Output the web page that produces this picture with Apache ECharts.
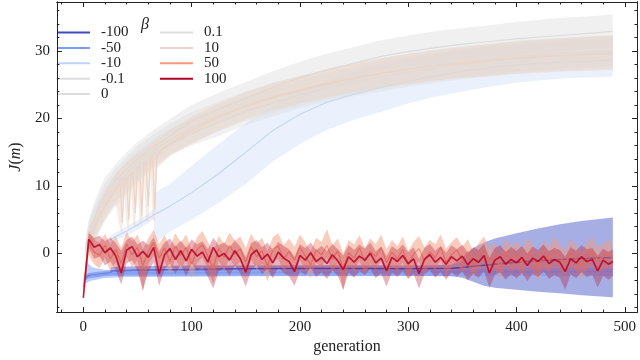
<!DOCTYPE html>
<html>
<head>
<meta charset="utf-8">
<script src="https://cdn.jsdelivr.net/npm/echarts@6/dist/echarts.min.js"></script>
<style>
  html, body { margin: 0; background: #fff; }
  #chart { width: 640px; height: 360px; }
</style>
</head>
<body>
<div id="chart"></div>
<script>
  // beta values, legend order
  const betas = ['-100', '-50', '-10', '-0.1', '0', '0.1', '10', '50', '100'];

  // axis ticks
  const xMajorTicks = [0, 100, 200, 300, 400, 500];
  const xMinorTicks = [-20, 20, 40, 60, 80, 120, 140, 160, 180, 220, 240, 260, 280, 320, 340, 360, 380, 420, 440, 460, 480];
  const yMajorTicks = [0, 10, 20, 30];
  const yMinorTicks = [-8, -6, -4, -2, 2, 4, 6, 8, 12, 14, 16, 18, 22, 24, 26, 28, 32, 34, 36];

  // generations for the noisy runs (beta = 50, 100)
  const gensNoisy = [];
  for (let g = 0; g <= 485; g += 5) gensNoisy.push(g);
  gensNoisy.push(489);

  const mean100 = [
    -6.6, 2.1, 0.9, 1.3, 0.1, 0.8, -0.4, -2.9, 0.5, 1.0,
    -0.5, 0.3, -0.6, 0.9, -3.0, -0.2, 0.7, -0.9, 0.4, -1.1,
    0.6, -0.4, 0.2, -1.3, 0.9, -0.5, 0.0, -1.0, 0.4, -0.8,
    -2.8, -0.2, 0.5, -0.9, -0.1, -1.4, 0.2, -0.7, -1.2, -2.7,
    -0.3, -1.0, 0.1, -1.2, -0.6, -1.5, -0.2, -1.1, -2.4, -0.5,
    -1.3, -0.4, -1.0, 0.0, -1.4, -0.7, -2.6, -0.6, -1.2, -0.3,
    -1.5, -0.8, -3.0, -0.9, -0.2, -1.3, -0.6, -1.6, -0.5, -1.1,
    -0.4, -1.7, -0.8, -1.3, -0.3, -2.9, -1.0, -0.5, -1.6, -0.9,
    -1.4, -0.6, -1.8, -0.7, -1.2, -0.4, -1.5, -0.9, -1.3, -2.7,
    -0.8, -1.4, -0.5, -1.2, -0.9, -2.6, -1.0, -1.6, -1.2
  ];
  const hi100 = [
    -5.8, 3.0, 2.3, 2.6, 1.8, 2.4, 1.5, 0.4, 2.0, 2.5,
    1.3, 1.9, 1.2, 2.4, 0.3, 1.6, 2.2, 1.0, 1.9, 0.8,
    2.1, 1.3, 1.8, 0.6, 2.3, 1.2, 1.6, 0.9, 1.9, 1.0,
    -0.6, 1.5, 2.0, 0.9, 1.6, 0.5, 1.7, 1.1, 0.6, -0.5,
    1.4, 0.8, 1.6, 0.5, 1.1, 0.3, 1.4, 0.6, -0.3, 1.2,
    0.5, 1.3, 0.7, 1.6, 0.3, 1.0, -0.4, 1.1, 0.5, 1.3,
    0.2, 0.9, -0.8, 0.8, 1.4, 0.4, 1.1, 0.1, 1.2, 0.6,
    1.3, 0.1, 0.9, 0.5, 1.4, -0.7, 0.8, 1.2, 0.2, 0.9,
    0.4, 1.1, 0.0, 1.0, 0.5, 1.3, 0.3, 0.8, 0.5, -0.5,
    0.9, 0.4, 1.2, 0.6, 0.8, -0.4, 0.7, 0.2, 0.6
  ];
  const lo100 = [
    -6.6, 0.8, -0.8, -0.5, -1.8, -1.2, -2.5, -4.6, -1.5, -1.0,
    -2.6, -5.5, -2.7, -1.3, -4.8, -2.4, -1.5, -3.0, -1.7, -3.4,
    -1.5, -2.6, -2.0, -3.5, -5.2, -2.7, -2.1, -3.3, -1.8, -3.0,
    -4.9, -2.5, -1.7, -3.1, -2.3, -3.7, -2.0, -2.9, -3.4, -4.8,
    -2.6, -3.2, -2.1, -3.5, -2.8, -3.8, -2.5, -3.3, -5.4, -2.8,
    -3.6, -2.6, -3.2, -2.3, -3.7, -2.9, -4.9, -2.8, -3.5, -2.6,
    -3.8, -3.0, -5.2, -3.1, -2.5, -3.6, -2.8, -3.9, -2.8, -3.4,
    -2.7, -4.0, -3.0, -3.6, -2.6, -5.1, -3.2, -2.8, -3.9, -3.1,
    -3.7, -2.9, -4.1, -3.0, -3.5, -2.7, -3.8, -3.2, -3.6, -5.4,
    -3.1, -3.7, -2.8, -3.5, -3.2, -5.0, -3.3, -3.9, -3.4
  ];

  const mean50 = [
    -5.0, 1.5, 0.2, -0.3, 1.2, -0.8, 0.6, -1.5, 1.4, -0.2,
    0.9, -1.8, 0.3, 1.6, -0.7, 0.8, -1.2, 1.1, -0.3, 0.9,
    -1.6, 0.5, 1.3, -0.4, -2.2, 0.8, -0.6, 1.2, -0.1, 0.7,
    -1.3, 1.0, -0.5, 0.4, -1.9, 0.6, 1.1, -0.8, 0.3, -1.0,
    0.9, -0.4, -1.7, 0.5, -0.2, 1.2, -0.9, 0.4, -2.3, 0.1,
    -0.7, 0.8, -1.2, 0.3, -0.5, 0.9, -1.4, 0.2, -0.8, 0.6,
    -1.8, -0.1, 0.7, -1.1, 0.2, -0.6, 0.9, -1.3, -0.2, 0.5,
    -1.0, 0.3, -1.6, -0.4, 0.6, -1.2, -0.3, -2.0, 0.4, -0.9,
    -0.1, -1.4, 0.3, -0.7, -2.1, 0.0, -1.0, 0.5, -0.6, -1.5,
    0.2, -0.8, -1.9, -0.3, 0.4, -1.1, -0.5, 0.1, -0.7
  ];
  const hi50 = [
    -4.5, 3.3, 2.0, 1.6, 2.9, 1.3, 2.5, 0.8, 3.2, 1.8,
    2.8, 0.6, 2.2, 3.5, 1.4, 2.7, 0.9, 3.0, 1.6, 2.8,
    0.5, 2.4, 3.3, 1.7, 0.2, 2.6, 1.4, 3.1, 1.9, 2.5,
    0.8, 2.9, 1.5, 2.3, 0.3, 2.4, 3.0, 1.2, 2.2, 1.0,
    2.8, 1.6, 0.4, 2.3, 1.7, 3.6, 1.2, 2.2, 0.0, 2.0,
    1.3, 2.7, 0.8, 2.2, 1.4, 2.8, 0.6, 2.0, 1.1, 2.5,
    0.3, 1.7, 2.6, 0.9, 2.0, 1.3, 2.8, 0.7, 1.7, 2.4,
    1.0, 2.1, 0.4, 1.5, 2.5, 0.8, 1.6, 0.0, 2.3, 1.0,
    1.8, 0.6, 2.2, 1.3, -0.1, 1.9, 0.9, 2.4, 1.3, 0.5,
    2.1, 1.1, 0.1, 1.6, 2.3, 0.8, 1.4, 2.0, 1.2
  ];
  const lo50 = [
    -5.8, -0.3, -1.6, -2.2, -0.6, -2.7, -1.3, -3.4, -0.5, -2.1,
    -1.0, -5.6, -1.6, -0.3, -2.6, -1.1, -3.1, -0.8, -2.2, -1.0,
    -3.6, -1.4, -0.6, -2.3, -4.5, -1.1, -2.5, -0.7, -2.0, -1.2,
    -3.2, -0.9, -2.4, -1.5, -4.2, -1.3, -0.8, -2.7, -1.6, -2.9,
    -1.0, -2.3, -3.6, -1.4, -2.1, -0.7, -2.8, -1.5, -5.5, -1.8,
    -2.6, -1.1, -3.1, -1.6, -2.4, -1.0, -3.3, -1.7, -2.7, -1.3,
    -3.7, -2.0, -1.2, -3.0, -1.7, -2.5, -1.0, -3.2, -2.1, -1.4,
    -2.9, -1.6, -3.5, -2.3, -1.3, -3.1, -2.2, -3.9, -1.5, -2.8,
    -2.0, -3.3, -1.6, -2.6, -4.0, -1.9, -2.9, -1.4, -2.5, -3.4,
    -1.7, -2.7, -3.8, -2.2, -1.5, -3.0, -2.4, -1.8, -2.6
  ];

  // generations for the smooth runs (beta = -0.1, 0, 0.1)
  const gensSmooth = [2, 5, 10, 15, 20, 30, 40, 50, 65, 80, 100, 125, 150, 175, 200, 225, 250, 275, 300, 325, 350, 375, 400, 425, 450, 475, 489];

  const meanP01 = [0.5, 2.8, 5.0, 7.0, 8.6, 10.8, 12.5, 14.0, 15.8, 17.4, 19.6, 21.4, 23.0, 24.6, 26.0, 27.2, 28.2, 29.2, 29.9, 30.5, 31.0, 31.4, 31.8, 32.1, 32.4, 32.7, 32.9];
  const hiP01 = [1.8, 5.0, 7.5, 9.6, 11.2, 13.3, 15.0, 16.5, 18.3, 19.9, 22.0, 23.8, 25.4, 27.0, 28.4, 29.6, 30.6, 31.6, 32.3, 32.9, 33.4, 33.8, 34.3, 34.7, 35.0, 35.2, 35.4];
  const loP01 = [-0.5, 1.0, 2.8, 4.6, 6.2, 8.5, 10.2, 11.8, 13.7, 15.4, 17.6, 19.3, 20.9, 22.4, 23.8, 25.0, 26.0, 27.0, 27.6, 28.2, 28.7, 29.1, 29.5, 29.8, 30.1, 30.4, 30.6];

  const mean0 = [0.3, 1.8, 3.8, 5.6, 7.2, 9.4, 11.2, 12.8, 14.8, 16.2, 17.8, 19.4, 21.0, 22.3, 23.5, 24.5, 25.4, 26.2, 26.9, 27.5, 28.0, 28.5, 28.9, 29.2, 29.4, 29.6, 29.7];
  const hi0 = [1.6, 4.0, 6.2, 8.0, 9.6, 11.8, 13.6, 15.2, 17.0, 18.4, 20.0, 21.6, 23.1, 24.4, 25.6, 26.7, 27.6, 28.5, 29.2, 29.8, 30.4, 30.9, 31.3, 31.6, 31.9, 32.1, 32.2];
  const lo0 = [-0.6, -0.2, 1.4, 3.2, 4.8, 7.0, 8.8, 10.5, 12.6, 14.6, 16.0, 17.4, 19.0, 20.3, 21.5, 22.5, 23.3, 24.0, 24.7, 25.3, 25.8, 26.2, 26.6, 26.9, 27.1, 27.3, 27.4];

  const meanM01 = [0.4, 2.2, 4.4, 6.3, 7.9, 10.1, 11.8, 13.4, 15.3, 16.8, 18.6, 20.3, 21.8, 23.0, 24.1, 25.0, 25.8, 26.6, 27.3, 27.9, 28.4, 28.8, 29.2, 29.5, 29.7, 29.9, 30.0];
  const hiM01 = [1.8, 4.6, 6.9, 8.8, 10.4, 12.6, 14.3, 15.9, 17.7, 19.2, 20.9, 22.5, 24.0, 25.2, 26.3, 27.3, 28.1, 28.9, 29.6, 30.2, 30.7, 31.1, 31.5, 31.8, 32.0, 32.2, 32.3];
  const loM01 = [-0.5, 0.2, 2.0, 3.8, 5.4, 7.6, 9.3, 10.9, 12.9, 14.6, 16.4, 18.1, 19.6, 20.8, 21.9, 22.8, 23.6, 24.4, 25.0, 25.6, 26.1, 26.5, 26.9, 27.2, 27.4, 27.6, 27.7];

  // beta = 10 (flickers early on)
  const gens10 = [3, 6, 10, 15, 20, 25, 30, 34, 36, 38, 40, 42, 44, 46, 48, 50, 52, 54, 56, 58, 60, 62, 64, 66, 68, 80, 100, 125, 150, 175, 200, 225, 250, 275, 300, 325, 350, 375, 400, 425, 450, 475, 489];
  const mean10 = [0.5, 2.0, 3.6, 5.5, 7.0, 8.3, 9.5, 10.4, 4.5, 10.9, 11.3, 5.0, 11.8, 12.1, 6.0, 12.6, 12.8, 5.5, 13.3, 13.5, 7.0, 14.0, 14.2, 6.5, 14.6, 16.3, 18.2, 20.2, 21.9, 23.2, 24.2, 25.2, 26.0, 26.7, 27.3, 27.8, 28.2, 28.6, 28.9, 29.2, 29.4, 29.5, 29.6];
  const hi10 = [1.8, 3.8, 5.6, 7.6, 9.2, 10.5, 11.7, 12.6, 12.8, 13.1, 13.4, 13.7, 14.0, 14.3, 14.5, 14.8, 15.0, 15.2, 15.5, 15.7, 15.9, 16.2, 16.4, 16.6, 16.8, 18.3, 20.2, 22.2, 23.9, 25.3, 26.3, 27.3, 28.2, 28.9, 29.6, 30.1, 30.6, 31.0, 31.4, 31.7, 32.0, 32.2, 32.3];
  const lo10 = [-0.5, 0.5, 1.8, 3.5, 5.0, 6.3, 7.4, 3.5, 3.2, 8.8, 4.0, 3.6, 9.8, 4.2, 4.0, 10.6, 4.5, 4.1, 11.2, 5.0, 4.4, 11.9, 5.2, 4.6, 12.6, 14.4, 16.2, 18.2, 19.9, 21.2, 22.2, 23.1, 23.9, 24.6, 25.1, 25.6, 26.0, 26.3, 26.6, 26.8, 27.0, 27.1, 27.2];

  // beta = -10
  const gensM10 = [25, 30, 40, 50, 60, 65, 66, 80, 100, 125, 150, 175, 200, 225, 250, 275, 300, 325, 350, 375, 400, 425, 450, 475, 489];
  const meanM10 = [2.0, 2.5, 3.3, 4.2, 5.2, 5.7, 5.8, 7.0, 9.0, 11.8, 15.0, 18.2, 20.6, 22.4, 23.6, 24.6, 25.5, 26.3, 27.0, 27.5, 27.9, 28.2, 28.4, 28.5, 28.6];
  const hiM10 = [2.6, 3.1, 4.0, 4.9, 5.9, 6.5, 9.0, 10.3, 13.0, 16.2, 19.3, 22.0, 24.0, 25.6, 26.9, 28.0, 28.8, 29.5, 30.1, 30.6, 31.0, 31.3, 31.5, 31.6, 31.7];
  const loM10 = [1.4, 1.9, 2.6, 3.5, 4.5, 5.0, 1.5, 3.2, 5.0, 7.5, 10.3, 13.6, 16.2, 18.3, 19.8, 21.0, 22.2, 23.2, 24.0, 24.7, 25.3, 25.7, 26.0, 26.1, 26.2];

  // beta = -50
  const gensM50 = [2, 3, 5, 8, 12, 18, 25, 40, 60, 100, 150, 200, 250, 300, 350, 400, 450, 489];
  const meanM50 = [-3.8, -3.6, -3.4, -3.3, -3.2, -3.1, -3.0, -2.95, -2.9, -2.85, -2.8, -2.8, -2.8, -2.75, -2.75, -2.75, -2.7, -2.7];
  const hiM50 = [-1.0, -1.2, -1.6, -2.0, -2.2, -2.4, -2.5, -2.45, -2.4, -2.35, -2.3, -2.3, -2.3, -2.3, -2.3, -2.3, -2.25, -2.25];
  const loM50 = [-4.5, -4.4, -4.2, -4.0, -3.9, -3.7, -3.6, -3.5, -3.5, -3.45, -3.4, -3.4, -3.4, -3.35, -3.35, -3.35, -3.3, -3.3];

  // beta = -100
  const gensM100 = [2, 5, 10, 20, 25, 26, 50, 100, 150, 200, 250, 300, 340, 350, 355, 360, 370, 380, 400, 420, 440, 460, 489];
  const meanM100 = [-3.6, -3.3, -3.2, -3.0, -2.9, -2.6, -2.5, -2.4, -2.3, -2.25, -2.25, -2.3, -2.2, -2.1, -2.0, -1.9, -1.75, -1.6, -1.3, -1.1, -0.9, -0.75, -0.6];
  const hiM100 = [-3.2, -2.9, -2.8, -2.6, -2.5, -2.0, -1.9, -1.8, -1.8, -1.75, -1.75, -1.8, -1.7, -1.0, 0.0, 0.8, 1.6, 2.2, 3.0, 3.7, 4.3, 4.8, 5.3];
  const loM100 = [-4.0, -3.7, -3.6, -3.4, -3.3, -3.3, -3.3, -3.3, -3.3, -3.3, -3.3, -3.3, -3.4, -3.6, -3.9, -4.2, -4.8, -5.1, -5.4, -5.7, -5.9, -6.2, -6.5];

  // coolwarm colours for each beta
  const colors = ['#3b4cc0', '#7b9ff9', '#c0d4f5', '#dcdddd', '#dddddd', '#dddcdc', '#ecd3c5', '#f49a7b', '#b40426'];

  const runs = [
    [gensM100, meanM100, loM100, hiM100],
    [gensM50, meanM50, loM50, hiM50],
    [gensM10, meanM10, loM10, hiM10],
    [gensSmooth, meanM01, loM01, hiM01],
    [gensSmooth, mean0, lo0, hi0],
    [gensSmooth, meanP01, loP01, hiP01],
    [gens10, mean10, lo10, hi10],
    [gensNoisy, mean50, lo50, hi50],
    [gensNoisy, mean100, lo100, hi100]
  ];
  const lineWidths = [1.6, 1.3, 1.1, 1.2, 1.2, 1.2, 1.2, 1.3, 1.7];
  const lineAlpha = [0.95, 1, 1, 1, 1, 1, 1, 1, 0.85];
  const bandAlpha = [0.45, 0.5, 0.33, 0.42, 0.42, 0.42, 0.45, 0.5, 0.3];

  const FONT = 'Liberation Serif';
  const X_MIN = -24.4, X_MAX = 511.3;
  const Y_MIN = -8.7, Y_MAX = 37.25;

  function xAx(pos, ticks, len, withLabels) {
    return {
      type: 'value', position: pos, min: X_MIN, max: X_MAX, z: 50,
      axisLine: { show: true, onZero: false, lineStyle: { color: '#222', width: 1 } },
      axisTick: { show: true, inside: true, length: len, customValues: ticks, lineStyle: { color: '#222', width: 1 } },
      axisLabel: { show: withLabels, customValues: ticks, fontFamily: FONT, fontSize: 15, color: '#222', margin: 7 },
      splitLine: { show: false }
    };
  }
  function yAx(pos, ticks, len, withLabels) {
    return {
      type: 'value', position: pos, min: Y_MIN, max: Y_MAX, z: 50,
      axisLine: { show: true, onZero: false, lineStyle: { color: '#222', width: 1 } },
      axisTick: { show: true, inside: true, length: len, customValues: ticks, lineStyle: { color: '#222', width: 1 } },
      axisLabel: { show: withLabels, customValues: ticks, fontFamily: FONT, fontSize: 15, color: '#222', margin: 7 },
      splitLine: { show: false }
    };
  }

  const xAxes = [
    xAx('bottom', xMajorTicks, 5, true),
    xAx('bottom', xMinorTicks, 2.5, false),
    xAx('top', xMajorTicks, 5, false),
    xAx('top', xMinorTicks, 2.5, false)
  ];
  xAxes[0].name = 'generation';
  xAxes[0].nameLocation = 'middle';
  xAxes[0].nameGap = 26;
  xAxes[0].nameTextStyle = { fontFamily: FONT, fontSize: 16, color: '#222' };

  const yAxes = [
    yAx('left', yMajorTicks, 5, true),
    yAx('left', yMinorTicks, 2.5, false),
    yAx('right', yMajorTicks, 5, false),
    yAx('right', yMinorTicks, 2.5, false)
  ];
  yAxes[0].name = '{i|J}({i|m})';
  yAxes[0].nameLocation = 'middle';
  yAxes[0].nameGap = 30;
  yAxes[0].nameRotate = 90;
  yAxes[0].nameTextStyle = {
    fontFamily: FONT, fontSize: 16, color: '#222',
    rich: { i: { fontFamily: FONT, fontSize: 16, fontStyle: 'italic', color: '#222' } }
  };

  function bandSeries(k) {
    const [gens, , lo, hi] = runs[k];
    return {
      type: 'custom',
      name: 'band ' + betas[k],
      xAxisIndex: 0, yAxisIndex: 0,
      z: 2 + 2 * k,
      silent: true,
      data: gens.map((g, i) => [g, lo[i], hi[i]]),
      encode: { x: 0, y: [1, 2] },
      renderItem: function (params, api) {
        if (params.dataIndex !== 0) return null;
        const pts = [];
        for (let i = 0; i < gens.length; i++) pts.push(api.coord([gens[i], hi[i]]));
        for (let i = gens.length - 1; i >= 0; i--) pts.push(api.coord([gens[i], lo[i]]));
        return {
          type: 'polygon',
          shape: { points: pts },
          style: { fill: colors[k], opacity: bandAlpha[k] }
        };
      }
    };
  }
  function lineSeries(k) {
    const [gens, mean] = runs[k];
    return {
      type: 'line',
      name: betas[k],
      xAxisIndex: 0, yAxisIndex: 0,
      z: 3 + 2 * k,
      silent: true,
      showSymbol: false,
      symbol: 'none',
      data: gens.map((g, i) => [g, mean[i]]),
      itemStyle: { color: colors[k] },
      lineStyle: { color: colors[k], width: lineWidths[k], opacity: lineAlpha[k] }
    };
  }

  const series = [];
  for (let k = 0; k < betas.length; k++) {
    series.push(bandSeries(k));
    series.push(lineSeries(k));
  }

  const legendBase = {
    orient: 'vertical', top: 25, icon: 'rect', padding: 0,
    itemWidth: 33, itemHeight: 2, itemGap: 0.4,
    selectedMode: false,
    textStyle: { fontFamily: FONT, fontSize: 15, lineHeight: 14, color: '#222', padding: [0, 0, 0, 6] }
  };

  const chart = echarts.init(document.getElementById('chart'), null, { renderer: 'canvas' });
  chart.setOption({
    animation: false,
    backgroundColor: '#fff',
    title: {
      text: 'β', left: 136, top: 12,
      textStyle: { fontFamily: FONT, fontStyle: 'italic', fontWeight: 'normal', fontSize: 16, color: '#222' }
    },
    legend: [
      Object.assign({}, legendBase, { left: 57, data: betas.slice(0, 5) }),
      Object.assign({}, legendBase, { left: 160, data: betas.slice(5) })
    ],
    grid: { left: 44, right: 3, top: 2, bottom: 41, containLabel: false },
    xAxis: xAxes,
    yAxis: yAxes,
    series: series
  });
</script>
</body>
</html>
